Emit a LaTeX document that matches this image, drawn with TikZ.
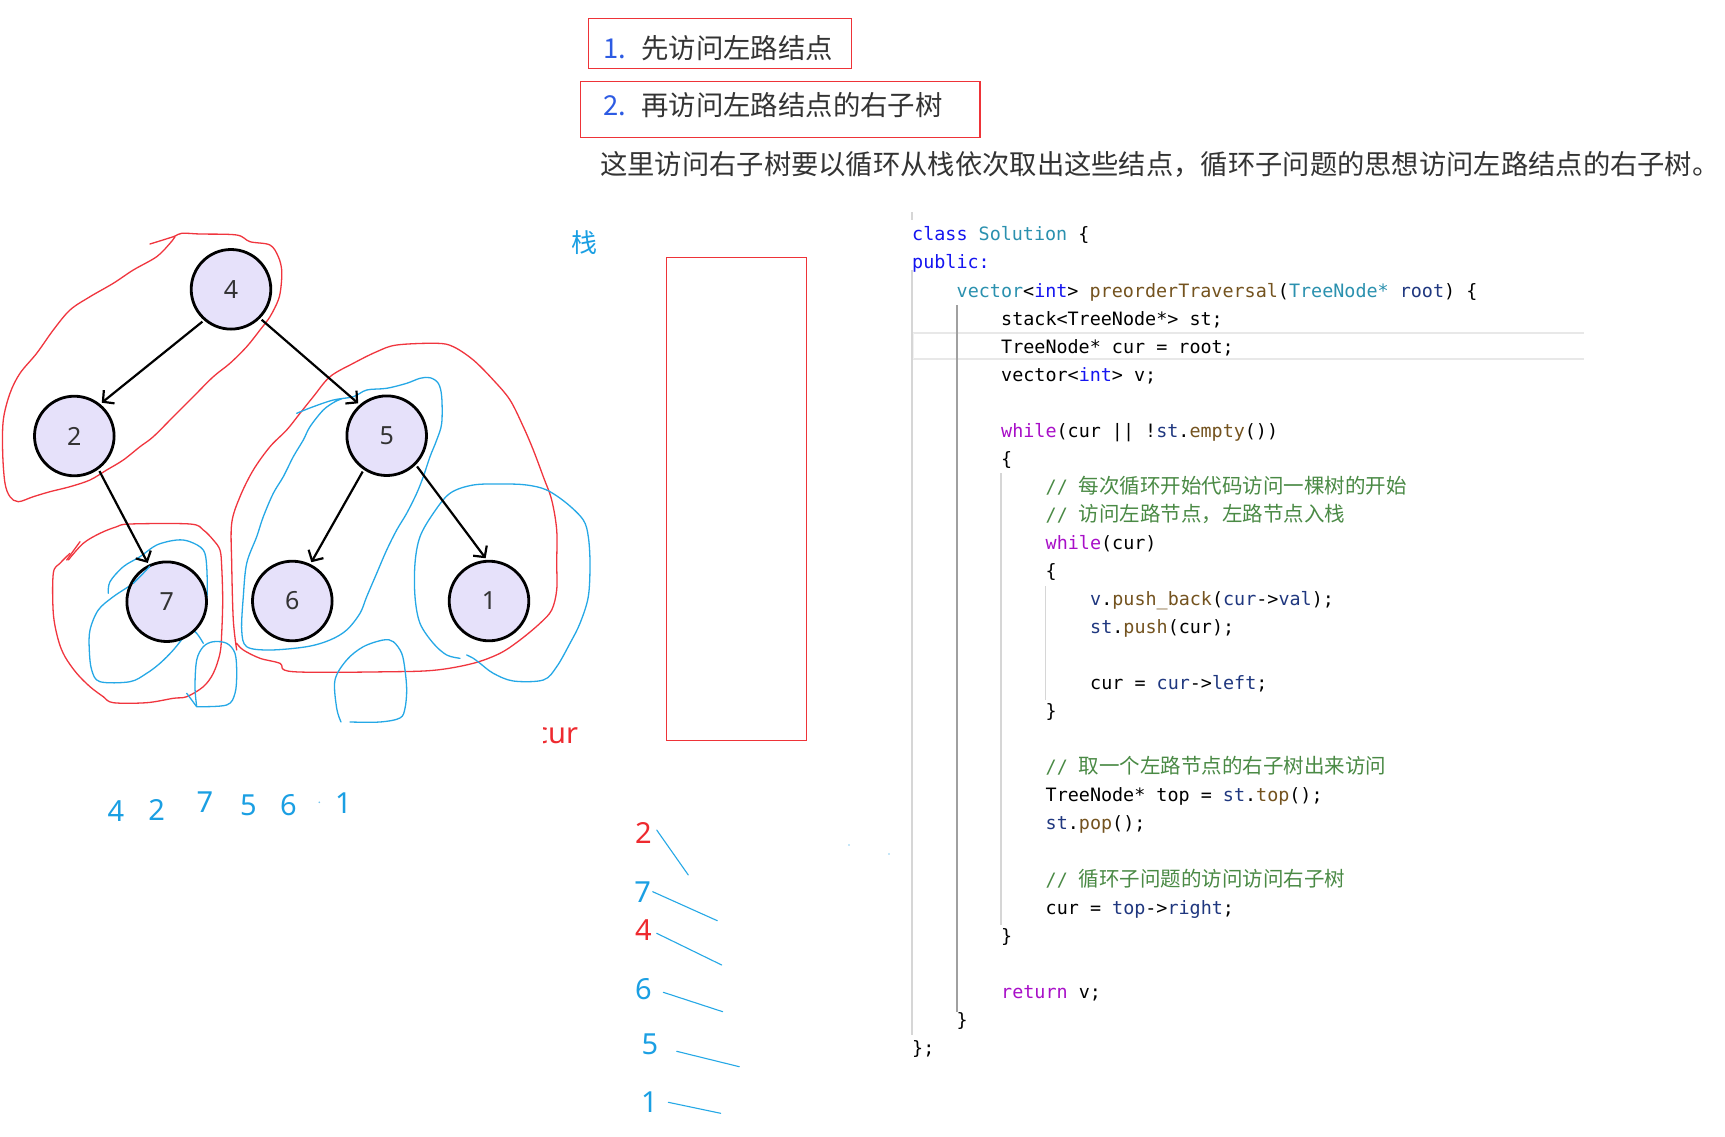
\documentclass[tikz,border=0pt]{standalone}
\usepackage{fontspec}
\setmainfont{Noto Sans}
\newfontfamily\cjk{Noto Sans CJK SC}
\newfontfamily\codefont{DejaVu Sans Mono}
\usetikzlibrary{arrows.meta}
\definecolor{nodefill}{HTML}{E6E1FA}
\definecolor{txtdark}{HTML}{333333}
\definecolor{handred}{HTML}{F0353E}
\definecolor{handblue}{HTML}{25A8E6}
\definecolor{numblue}{HTML}{1A9FE3}
\definecolor{numred}{HTML}{EE2A2F}
\definecolor{titleblue}{HTML}{2D5BE3}
\definecolor{boxred}{HTML}{EE3338}
\definecolor{ckw}{HTML}{1515F0}
\definecolor{cty}{HTML}{2B91AF}
\definecolor{cfn}{HTML}{74531F}
\definecolor{cva}{HTML}{1F377F}
\definecolor{cctl}{HTML}{A80FC8}
\definecolor{ccm}{HTML}{4A8A45}
\definecolor{guide}{HTML}{D6D6D6}
\definecolor{band}{HTML}{E8E8E8}
\definecolor{guidedark}{HTML}{A0A0A0}
\newcommand\K[1]{\textcolor{ckw}{#1}}
\newcommand\T[1]{\textcolor{cty}{#1}}
\newcommand\F[1]{\textcolor{cfn}{#1}}
\newcommand\V[1]{\textcolor{cva}{#1}}
\newcommand\Ctl[1]{\textcolor{cctl}{#1}}
\newcommand\cmt[1]{\textcolor{ccm}{// {\cjk\fontsize{20.5}{22}\selectfont #1}}}
\newcommand\codeln[4]{\node[code] (#1) at ({912+44.5*#2},{240.9+28.05*(#3-1)}) {#4};}
\begin{document}
\begin{tikzpicture}[x=1pt,y=-1pt,
  tnode/.style={circle, draw=black, line width=2.8pt, fill=nodefill, minimum size=79.6pt, inner sep=0pt, font=\fontsize{25}{25}\selectfont, text=txtdark},
  tarrow/.style={line width=2.2pt, -{Straight Barb[length=8pt,width=17pt,line width=2.2pt]}, shorten <=2pt, shorten >=2pt},
  code/.style={anchor=base west, inner sep=0pt, font=\codefont\fontsize{18.4}{22}\selectfont},
  redhand/.style={draw=handred, line width=1.3pt, line cap=round, line join=round},
  bluehand/.style={draw=handblue, line width=1.3pt, line cap=round, line join=round},
  numb/.style={inner sep=0pt, font=\fontsize{29}{29}\selectfont, text=numblue},
  numr/.style={inner sep=0pt, font=\fontsize{29}{29}\selectfont, text=numred},
  cjktext/.style={anchor=base west, inner sep=0pt, text=txtdark},
  titlebox/.style={draw=boxred, line width=1.2pt}
]
\useasboundingbox (0,0) rectangle (1725,1137);
\fill[white] (0,0) rectangle (1725,1137);

% ---- title boxes and text ----
\draw[titlebox] (588.5,18.7) rectangle (851.4,68.2);
\draw[titlebox] (580.8,81.4) rectangle (980,137.5);
\node[cjktext, font=\cjk\fontsize{27.4}{28}\selectfont, text=titleblue] (t1n) at (603,58.8) {1.};
\node[cjktext, font=\cjk\fontsize{27.4}{28}\selectfont] (t1) at (641,58.8) {先访问左路结点};
\node[cjktext, font=\cjk\fontsize{27.4}{28}\selectfont, text=titleblue] (t2n) at (603,116) {2.};
\node[cjktext, font=\cjk\fontsize{27.4}{28}\selectfont] (t2) at (641,116) {再访问左路结点的右子树};
\node[cjktext, font=\cjk\fontsize{27.3}{30}\selectfont] (t3) at (600,175) {这里访问右子树要以循环从栈依次取出这些结点，循环子问题的思想访问左路结点的右子树。};

% ---- code area ----
\draw[band, line width=2.5pt] (913,333) -- (1584,333);
\draw[band, line width=2.5pt] (913,359) -- (1584,359);
\draw[band!60, line width=1.5pt] (913,333) -- (913,359);
\draw[guide, line width=1.2pt] (912,270) -- (912,1035);
\draw[guidedark, line width=2pt] (956.5,305) -- (956.5,1012);
\draw[guide, line width=1.2pt] (1001,473) -- (1001,925);
\draw[guide, line width=1.2pt] (1045.5,586) -- (1045.5,700);
\draw[guide, line width=1.5pt] (912,212) -- (912,220);

\codeln{l1}{0}{1}{\K{class} \T{Solution} \{}
\codeln{l2}{0}{2}{\K{public:}}
\codeln{l3}{1}{3}{\T{vector}<\K{int}> \F{preorderTraversal}(\T{TreeNode*} \V{root}) \{}
\codeln{l4}{2}{4}{stack<TreeNode*> st;}
\codeln{l5}{2}{5}{TreeNode* cur = root;}
\codeln{l6}{2}{6}{vector<\K{int}> v;}
\codeln{l8}{2}{8}{\Ctl{while}(cur || !\V{st}.\F{empty}())}
\codeln{l9}{2}{9}{\{}
\codeln{l10}{3}{10}{\cmt{每次循环开始代码访问一棵树的开始}}
\codeln{l11}{3}{11}{\cmt{访问左路节点，左路节点入栈}}
\codeln{l12}{3}{12}{\Ctl{while}(cur)}
\codeln{l13}{3}{13}{\{}
\codeln{l14}{4}{14}{\V{v}.\F{push\_back}(\V{cur}->\V{val});}
\codeln{l15}{4}{15}{\V{st}.\F{push}(cur);}
\codeln{l17}{4}{17}{cur = \V{cur}->\V{left};}
\codeln{l18}{3}{18}{\}}
\codeln{l20}{3}{20}{\cmt{取一个左路节点的右子树出来访问}}
\codeln{l21}{3}{21}{TreeNode* top = \V{st}.\F{top}();}
\codeln{l22}{3}{22}{\V{st}.\F{pop}();}
\codeln{l24}{3}{24}{\cmt{循环子问题的访问访问右子树}}
\codeln{l25}{3}{25}{cur = \V{top}->\V{right};}
\codeln{l26}{2}{26}{\}}
\codeln{l28}{2}{28}{\Ctl{return} v;}
\codeln{l29}{1}{29}{\}}
\codeln{l30}{0}{30}{\};}

% ---- stack ----
\node[inner sep=0pt, font=\cjk\fontsize{26}{26}\selectfont, text=numblue] (zhan) at (584,243) {栈};
\draw[boxred, line width=1.3pt] (666.6,257.4) rectangle (806.3,740.3);
\node[draw=none, inner sep=0pt] (stackbox) at (736.5,498.9) {};
\begin{scope}
\clip (543,700) rectangle (620,770);
\node[anchor=base west, inner sep=0pt, font=\fontsize{29}{29}\selectfont, text=numred] (curlbl) at (534,743) {cur};
\end{scope}

% ---- hand-drawn loops (behind nodes) ----
\draw[redhand] plot[smooth, tension=0.55] coordinates {(150,244) (173.3,236.7) (181.7,233.3) (200,234) (236.7,235) (250,241.7) (270,245) (278.3,256.7) (281.7,270) (281,286.7) (278.3,300) (270,316.7) (260,330) (246.7,346.7) (230,363.3) (213.3,376.7) (193.3,396.7) (173.3,416.7) (153.3,436.7) (140,446.7) (123.3,460) (106.7,470) (90,480) (70,486.7) (50,491.7) (33.3,496.7) (18.3,501.7) (10,496.7) (5,483.3) (2.7,453.3) (3.3,420) (10,393.3) (20,373.3) (36.7,353.3) (53.3,330) (70,310) (90,296.7) (113.3,283.3) (133.3,270) (156.7,256.7) (170,243.3) (175,236.7)};
\draw[redhand] plot[smooth, tension=0.55] coordinates {(236.7,650) (233.3,620) (231.7,563.3) (231.7,523.3) (240,496.7) (253.3,470) (270,446.7) (286.7,430) (300,413.3) (313.3,396.7) (330,376.7) (353.3,363.3) (376.7,351.7) (396.7,345) (436.7,343.3) (453.3,346.7) (473.3,360) (493.3,380) (510,400) (523.3,426.7) (533.3,450) (543.3,476.7) (551.7,500) (556.7,530) (556.7,563.3) (556.7,590) (551.7,610) (540,623.3) (520,640) (500,653.3) (473.3,663.3) (436.7,670) (393.3,671.7) (293.3,671.7) (280,663.3) (260,658.3) (243.3,650) (236.7,643.3)};
\draw[redhand] plot[smooth, tension=0.55] coordinates {(68.3,560) (83.3,543.3) (100,533.3) (116.7,526.7) (130,524) (190,524) (203.3,530) (213.3,540) (220,550) (221.7,566.7) (222.7,600) (221.7,633.3) (220,653.3) (213.3,673.3) (203.3,686.7) (186.7,696.7) (173.3,698.3) (146.7,702.7) (113.3,702.7) (103.3,696.7) (90,686.7) (76.7,673.3) (65,656.7) (58.3,640) (53.3,613.3) (53.3,573.3) (60,563.3) (70,553.3)};
\draw[redhand] (66.7,560) -- (80,541.7);

\draw[bluehand] plot[smooth, tension=0.55] coordinates {(296.7,413.3) (313.3,406.7) (333.3,400) (353.3,396.7) (366.7,390) (386.7,388.3) (406.7,383.3) (420,378.3) (430,377.7) (438.3,383.3) (441.7,396.7) (441.7,423.3) (436.7,440) (430,456.7) (423.3,476.7) (416.7,493.3) (406.7,513.3) (396.7,530) (386.7,550) (376.7,573.3) (366.7,596.7) (360,613.3) (346.7,630) (330,640) (306.7,646.7) (270,650) (246.7,646.7) (241.7,630) (243.3,596.7) (246.7,563.3) (256.7,536.7) (263.3,516.7) (273.3,493.3) (283.3,476.7) (293.3,456.7) (303.3,440) (310,426.7) (323.3,410) (335,401.7) (343.3,398.3)};
\draw[bluehand] plot[smooth, tension=0.55] coordinates {(460,658.3) (446.7,655) (433.3,643.3) (420,623.3) (415,596.7) (415,563.3) (420,536.7) (433.3,513.3) (450,493.3) (473.3,485) (503.3,484) (526.7,485) (546.7,490) (566.7,503.3) (583.3,520) (588.3,536.7) (590,563.3) (588.3,596.7) (580,623.3) (570,643.3) (556.7,666.7) (543.3,680) (513.3,681) (493.3,673.3) (480,663.3) (473.3,658.3) (466.7,655)};
\draw[bluehand] plot[smooth, tension=0.55] coordinates {(341,722) (336.7,708.3) (335,680) (346.7,660) (363.3,646.7) (383.3,640) (393.3,641.7) (401.7,653.3) (405,670) (406.7,690) (405,708.3) (400,718) (380,722) (350,722)};
\draw[bluehand] plot[smooth, tension=0.55] coordinates {(108.3,593.3) (110,581.7) (123.3,566.7) (140,556.7) (156.7,545) (176.7,540) (190,541.7) (203.3,550) (206.7,566.7) (206.7,600) (200,616.7) (186.7,633.3) (173.3,650) (160,663.3) (146.7,673.3) (130,681.7) (100,681.7) (91.7,670) (89.3,650) (90,630) (98.3,610) (113.3,596.7) (133.3,583.3) (143.3,573.3)};
\draw[bluehand] plot[smooth, tension=0.55] coordinates {(173.3,618.3) (186.7,625) (196.7,633.3) (203.3,643.3)};
\draw[bluehand] plot[smooth, tension=0.55] coordinates {(196.7,706.7) (195,686.7) (196.7,660) (203.3,646.7) (213.3,641.7) (226.7,643.3) (235,653.3) (236.7,673.3) (235,693.3) (226.7,705) (196.7,706.7)};
\draw[bluehand] (186.7,693.3) -- (196.7,706.7);

% ---- tree ----
\node[tnode] (n4) at (231,289.3) {4};
\node[tnode] (n2) at (74.3,436) {2};
\node[tnode] (n5) at (386.7,435.7) {5};
\node[tnode] (n7) at (166.7,601.7) {7};
\node[tnode] (n6) at (292.3,601) {6};
\node[tnode] (n1) at (489,601) {1};
\draw[tarrow] (n4.229) -- (n2.51);
\draw[tarrow] (n4.315) -- (n5.131);
\draw[tarrow] (n2.306) -- (n7.116);
\draw[tarrow] (n5.236) -- (n6.64);
\draw[tarrow] (n5.315) -- (n1.93);

% blue stroke over node 7 (drawn on top)
\draw[bluehand] plot[smooth, tension=0.55] coordinates {(133.3,583.3) (143.3,573.3) (150,566)};

% ---- preorder result ----
\node[numb] (r4) at (115.8,810.7) {4};
\node[numb] (r2) at (156.7,810) {2};
\node[numb] (r7) at (205,801.7) {7};
\node[numb] (r5) at (248.3,805) {5};
\node[numb] (r6) at (288.3,805) {6};
\node[numb] (r1) at (343.3,803.3) {1};
\fill[numblue!60] (319.3,802.3) circle (0.9pt);

% ---- pop order ----
\node[numr] (p2) at (643.3,833.3) {2};
\node[numb] (p7) at (642.7,891.7) {7};
\node[numr] (p4) at (643.3,930) {4};
\node[numb] (p6) at (643.3,989.3) {6};
\node[numb] (p5) at (650,1044) {5};
\node[numb] (p1) at (649.3,1101.7) {1};
\draw[bluehand, line width=1.1pt] (656.7,830) -- (688.3,875);
\draw[bluehand, line width=1.1pt] (652.7,891.7) -- (717.3,920.7);
\draw[bluehand, line width=1.1pt] (656.7,933.3) -- (721.7,965);
\draw[bluehand, line width=1.1pt] (663.3,992.3) -- (722.7,1011.7);
\draw[bluehand, line width=1.1pt] (676.7,1051.3) -- (739.3,1066.7);
\draw[bluehand, line width=1.1pt] (668.3,1102.3) -- (720.7,1113.3);
\fill[numblue!50] (849,845) circle (0.8pt);
\fill[numblue!50] (889,854) circle (0.8pt);
\end{tikzpicture}
\end{document}
